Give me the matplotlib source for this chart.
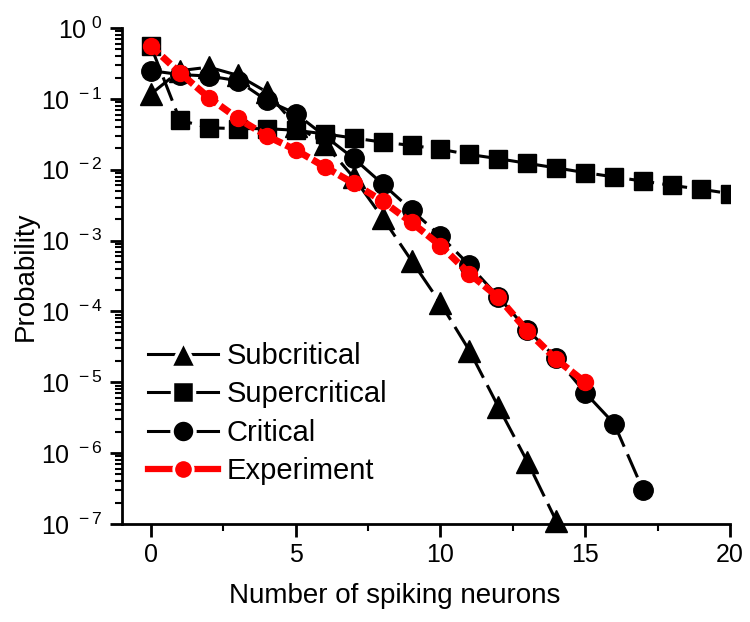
import numpy as np
import matplotlib
matplotlib.use('Agg')
import matplotlib.pyplot as plt
from matplotlib.lines import Line2D
from matplotlib.ticker import FixedLocator, FuncFormatter, LogLocator, MultipleLocator

plt.rcParams['font.family'] = ['Liberation Sans', 'DejaVu Sans']
plt.rcParams['mathtext.fontset'] = 'custom'
plt.rcParams['mathtext.rm'] = 'Liberation Sans'
plt.rcParams['mathtext.default'] = 'regular'
plt.rcParams['lines.scale_dashes'] = False

# data
x_sub = [0, 1, 2, 3, 4, 5, 6, 7, 8, 9, 10, 11, 12, 13, 14]
p_sub = [0.117, 0.25, 0.28, 0.215, 0.125, 0.042, 0.023, 0.0078, 0.0021,
         5.2e-4, 1.3e-4, 2.8e-5, 4.5e-6, 7.6e-7, 1.1e-7]

x_sup = list(range(21))
p_sup = [0.55, 0.05, 0.039, 0.038, 0.038, 0.036, 0.032, 0.028, 0.0245, 0.022,
         0.0194, 0.0164, 0.0143, 0.0123, 0.0106, 0.0091, 0.0079, 0.0069,
         0.006, 0.0053, 0.0046]

x_crit = list(range(18))
p_crit = [0.25, 0.22, 0.21, 0.18, 0.095, 0.062, 0.03, 0.0145, 0.0063, 0.0027,
          0.00116, 4.5e-4, 1.6e-4, 5.5e-5, 2.2e-5, 7.1e-6, 2.6e-6, 3.0e-7]

x_exp = list(range(16))
p_exp = [0.556, 0.233, 0.104, 0.053, 0.030, 0.019, 0.011, 0.0064, 0.0036,
         0.0018, 8.5e-4, 3.4e-4, 1.58e-4, 5.3e-5, 2.1e-5, 1.0e-5]

labels = ['Subcritical', 'Supercritical', 'Critical', 'Experiment']

fig = plt.figure(figsize=(7.5, 6.22), dpi=100)
ax = fig.add_axes([0.1627, 0.1576, 0.8106, 0.7974])

ax.plot(x_sub, p_sub, color='black', lw=2.2, dashes=(18, 6),
        marker='^', ms=16, mfc='black', mec='black', clip_on=False, zorder=3)
ax.plot(x_sup, p_sup, color='black', lw=2.2, dashes=(18, 6),
        marker='s', ms=13.5, mfc='black', mec='black', zorder=3)
ax.plot(x_crit, p_crit, color='black', lw=2.2, dashes=(18, 6),
        marker='o', ms=14, mfc='black', mec='black', zorder=4)
ax.plot(x_exp, p_exp, color='#ff0000', lw=5, dashes=(8, 3),
        marker='o', ms=11.5, mfc='#ff0000', mec='#ff0000', zorder=5)

ax.set_yscale('log')
ax.set_ylim(1e-7, 1)
ax.set_xlim(-1, 20)

ax.xaxis.set_major_locator(MultipleLocator(5))
ax.xaxis.set_minor_locator(FixedLocator([2.5, 7.5, 12.5, 17.5]))
ax.yaxis.set_major_locator(LogLocator(base=10, numticks=20))
ax.yaxis.set_minor_locator(LogLocator(base=10, subs=np.arange(2, 10), numticks=20))
ax.yaxis.set_major_formatter(FuncFormatter(
    lambda v, pos: r'10$^{\ %d}$' % int(round(np.log10(v)))))

for s in ['top', 'right']:
    ax.spines[s].set_visible(False)
for s in ['left', 'bottom']:
    ax.spines[s].set_linewidth(2)

ax.tick_params(which='major', direction='out', length=9, width=2,
               labelsize=18, pad=5)
ax.tick_params(which='minor', direction='out', length=5, width=1.5)

ax.set_ylabel('Probability', fontsize=20)
ax.yaxis.set_label_coords(-0.137, 0.5)
fig.text(395 / 750, 1 - 596 / 622, 'Number of spiking neurons',
         fontsize=20, ha='center', va='center')

# legend handles: solid line with a white gap around the marker
handles = [
    Line2D([], [], color='black', lw=2.2, marker='^', ms=19, mfc='black',
           mec='white', mew=2.5),
    Line2D([], [], color='black', lw=2.2, marker='s', ms=16, mfc='black',
           mec='white', mew=2.5),
    Line2D([], [], color='black', lw=2.2, marker='o', ms=16.5, mfc='black',
           mec='white', mew=2.5),
    Line2D([], [], color='#ff0000', lw=4.5, marker='o', ms=14, mfc='#ff0000',
           mec='white', mew=2),
]
ax.legend(handles, labels, loc='upper left', bbox_to_anchor=(0.043, 0.367),
          frameon=False, fontsize=21, handlelength=2.4, handletextpad=0.3,
          labelspacing=0.36, borderpad=0, borderaxespad=0)

fig.savefig('out.png', dpi=100)
